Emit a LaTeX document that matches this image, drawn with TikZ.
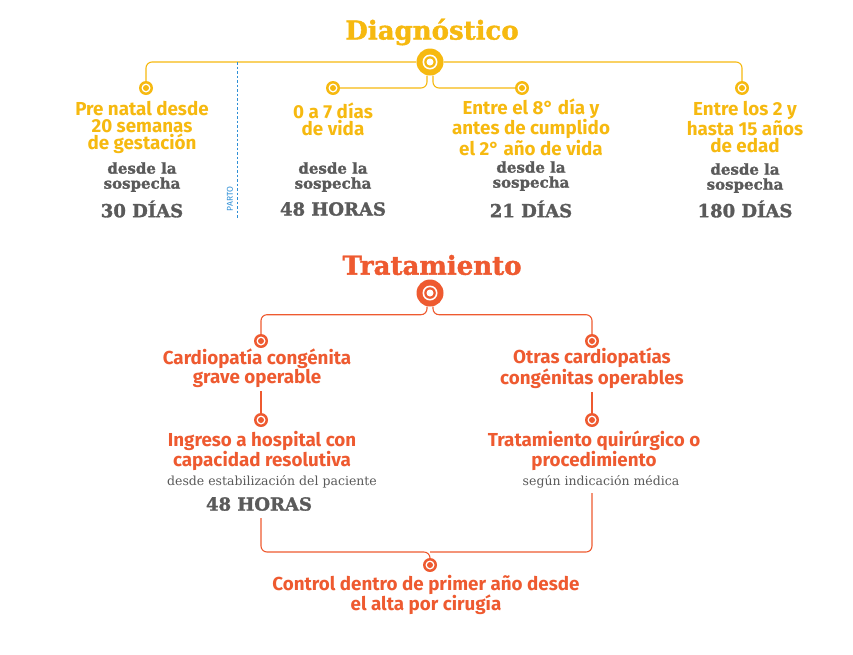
\documentclass[tikz,border=0pt]{standalone}
\usepackage{fontspec}
\setmainfont{Fira Sans}
\newfontfamily\slab{DejaVu Serif}[BoldFeatures={FakeBold=1.6}]
\definecolor{yel}{HTML}{F6B910}
\definecolor{ora}{HTML}{EE5A30}
\definecolor{gry}{HTML}{5A5A5A}
\definecolor{blu}{HTML}{2E8FD6}
\begin{document}
\begin{tikzpicture}[x=1pt,y=-1pt,
  yt/.style={text=yel,font=\fontsize{18.8}{17}\selectfont\bfseries,align=center},
  ot/.style={text=ora,font=\fontsize{18.8}{17}\selectfont\bfseries,align=center},
  gt/.style={text=gry,font=\slab\bfseries\fontsize{15}{15}\selectfont,align=center},
  gb/.style={text=gry,font=\slab\bfseries\fontsize{18}{18}\selectfont,align=center},
  gs/.style={text=gry,font=\slab\fontsize{12.5}{12}\selectfont,align=center},
  dotY/.style={circle,fill=yel,minimum size=14pt,inner sep=0pt,path picture={\fill[white](path picture bounding box.center) circle (4.5pt);\fill[yel](path picture bounding box.center) circle (3pt);}},
  dotO/.style={circle,fill=ora,minimum size=14pt,inner sep=0pt,path picture={\fill[white](path picture bounding box.center) circle (4.5pt);\fill[ora](path picture bounding box.center) circle (3pt);}},
  hubY/.style={circle,fill=yel,minimum size=27pt,inner sep=0pt,path picture={\fill[white](path picture bounding box.center) circle (7.5pt);\fill[yel](path picture bounding box.center) circle (5.8pt);\fill[white](path picture bounding box.center) circle (3.5pt);}},
  hubO/.style={circle,fill=ora,minimum size=27pt,inner sep=0pt,path picture={\fill[white](path picture bounding box.center) circle (7.5pt);\fill[ora](path picture bounding box.center) circle (5.8pt);\fill[white](path picture bounding box.center) circle (3.5pt);}},
  ly/.style={yel,line width=1.1pt,rounded corners=6pt},
  lo/.style={ora,line width=1.1pt,rounded corners=6pt}]
\useasboundingbox (0,0) rectangle (853,654);
% Diagnostico
\node[text=yel,font=\slab\bfseries\fontsize{26}{26}\selectfont] (dt) at (432,32) {Diagnóstico};
\node[hubY] (dh) at (430,62) {};
\node[dotY] (d1) at (146,88) {};
\node[dotY] (d2) at (333,88) {};
\node[dotY] (d3) at (522,88) {};
\node[dotY] (d4) at (742,88) {};
\draw[ly] (dh.west) -| (d1.north);
\draw[ly] (dh.east) -| (d4.north);
\draw[ly] (dh.south)++(-3,0) |- (d2.east);
\draw[ly] (dh.south)++(3,0) |- (d3.west);
\coordinate (pa) at (237,62);
\coordinate (pb) at (237,218);
\draw[blu,line width=0.7pt,dash pattern=on 2.5pt off 2pt] (pa) -- (pb);
\node[text=blu,font=\fontsize{8.5}{8}\selectfont,rotate=90] (parto) at (230,199) {PARTO};
\node[yt] (a1) at (142,127) {Pre natal desde\\20 semanas\\de gestación};
\node[gt] (b1) at (142,177) {desde la\\sospecha};
\node[gb] (c1) at (142,209) {30 DÍAS};
\node[yt] (a2) at (333,119) {0 a 7 días\\de vida};
\node[gt] (b2) at (333,177) {desde la\\sospecha};
\node[gb] (c2) at (333,209) {48 HORAS};
\node[yt] (a3) at (531,127) {Entre el 8° día y\\antes de cumplido\\el 2° año de vida};
\node[gt] (b3) at (531,176) {desde la\\sospecha};
\node[gb] (c3) at (531,209) {21 DÍAS};
\node[yt] (a4) at (745,127) {Entre los 2 y\\hasta 15 años\\de edad};
\node[gt] (b4) at (745,178) {desde la\\sospecha};
\node[gb] (c4) at (745,209) {180 DÍAS};
% Tratamiento
\node[text=ora,font=\slab\bfseries\fontsize{26}{26}\selectfont] (tt) at (432,265) {Tratamiento};
\node[hubO] (th) at (430,293) {};
\node[dotO] (t1) at (261,341) {};
\node[dotO] (t2) at (592,341) {};
\node[dotO] (t3) at (261,420) {};
\node[dotO] (t4) at (592,420) {};
\node[dotO] (t5) at (430,565) {};
\draw[lo] (th.south)++(-3,0) -- ++(0,8) -| (t1.north);
\draw[lo] (th.south)++(3,0) -- ++(0,8) -| (t2.north);
\node[ot] (o1) at (257,368) {Cardiopatía congénita\\grave operable};
\node[ot] (o2) at (592,368) {Otras cardiopatías\\congénitas operables};
\draw[lo] (o1.south -| t3) -- (t3.north);
\draw[lo] (o2.south -| t4) -- (t4.north);
\node[ot] (o3) at (262,451) {Ingreso a hospital con\\capacidad resolutiva};
\node[gs] (g3) at (272,482) {desde estabilización del paciente};
\node[gb] (h3) at (259,504) {48 HORAS};
\node[ot] (o4) at (594,451) {Tratamiento quirúrgico o\\procedimiento};
\node[gs] (g4) at (601,482) {según indicación médica};
\coordinate (e1) at (261,518);
\coordinate (e2) at (592,493);
\draw[lo] (e1) |- (430,552) -- (t5.north);
\draw[lo] (e2) |- (430,552);
\node[ot] (o5) at (426,595) {Control dentro de primer año desde\\el alta por cirugía};
\end{tikzpicture}
\end{document}
